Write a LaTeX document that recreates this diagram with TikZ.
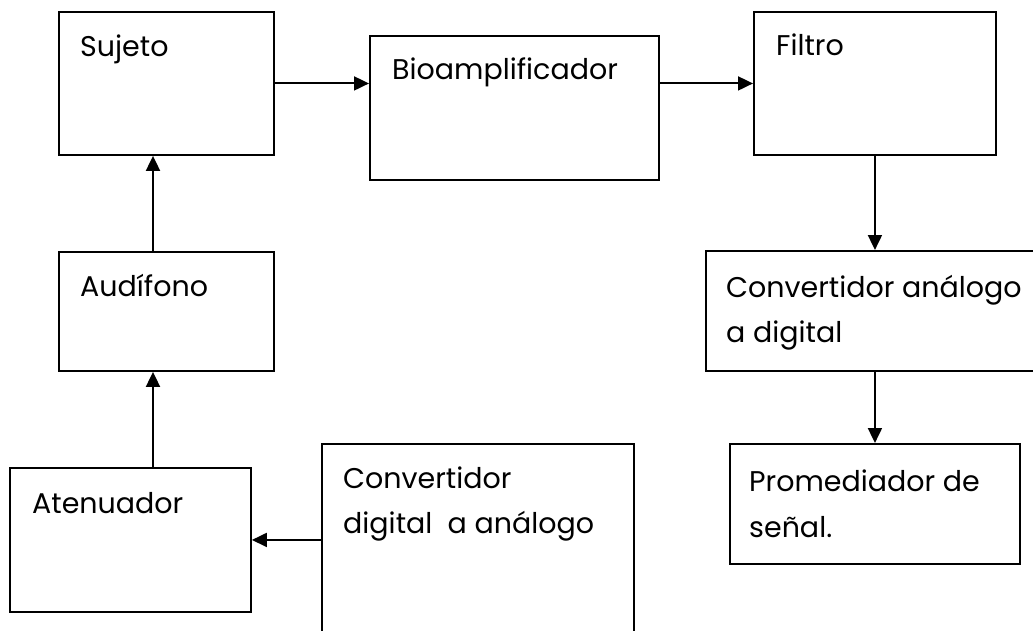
\documentclass[tikz,border=0pt]{standalone}
\usepackage{fontspec}
\setmainfont{Poppins}
\usetikzlibrary{arrows.meta}
\begin{document}
\begin{tikzpicture}[x=1pt,y=-1pt,
  blk/.style={draw=black,line width=1.9pt,rectangle,inner sep=0pt,anchor=north west},
  lbl/.style={anchor=base west,inner sep=0pt,font=\fontsize{28.5}{45}\selectfont},
  flow/.style={draw=black,line width=1.9pt,-{Triangle[length=15pt,width=14pt]}}]
\path[use as bounding box] (0,0) rectangle (1033,631);
\clip (0,0) rectangle (1033,631);
% boxes
\node[blk,minimum width=215pt,minimum height=143pt] (suj) at (58,11) {};
\node[blk,minimum width=289pt,minimum height=144pt] (bio) at (369,35) {};
\node[blk,minimum width=242pt,minimum height=143pt] (fil) at (753,11) {};
\node[blk,minimum width=215pt,minimum height=119pt] (aud) at (58,251) {};
\node[blk,minimum width=335pt,minimum height=120pt] (cad) at (705,250) {};
\node[blk,minimum width=241pt,minimum height=144pt] (ate) at (9,467) {};
\node[blk,minimum width=312pt,minimum height=192pt] (cda) at (321,443) {};
\node[blk,minimum width=290pt,minimum height=120pt] (pro) at (729,443) {};
% labels
\node[lbl] (sujT) at (80,57) {Sujeto};
\node[lbl] (bioT) at (392,80) {Bioamplificador};
\node[lbl] (filT) at (776,56) {Filtro};
\node[lbl] (audT) at (80,296) {Audífono};
\node[lbl] (cadT1) at (726,297) {Convertidor análogo};
\node[lbl] (cadT2) at (726,342) {a digital};
\node[lbl] (ateT) at (32,513) {Atenuador};
\node[lbl] (cdaT1) at (343,488) {Convertidor};
\node[lbl] (cdaT2) at (343,533) {digital\ \ a análogo};
\node[lbl] (proT1) at (749,491) {Promediador de};
\node[lbl] (proT2) at (749,537) {señal.};
% connectors
\coordinate (vx) at (153,0);
\draw[flow] (suj.east) -- (suj.east -| bio.west);
\draw[flow] (fil.west -| bio.east) -- (fil.west);
\draw[flow] (fil.south) -- (fil.south |- cad.north);
\draw[flow] (cad.south -| pro.north) -- (pro.north);
\draw[flow] (vx |- aud.north) -- (vx |- suj.south);
\draw[flow] (vx |- ate.north) -- (vx |- aud.south);
\draw[flow] (cda.west) -- (cda.west -| ate.east);
\end{tikzpicture}
\end{document}
